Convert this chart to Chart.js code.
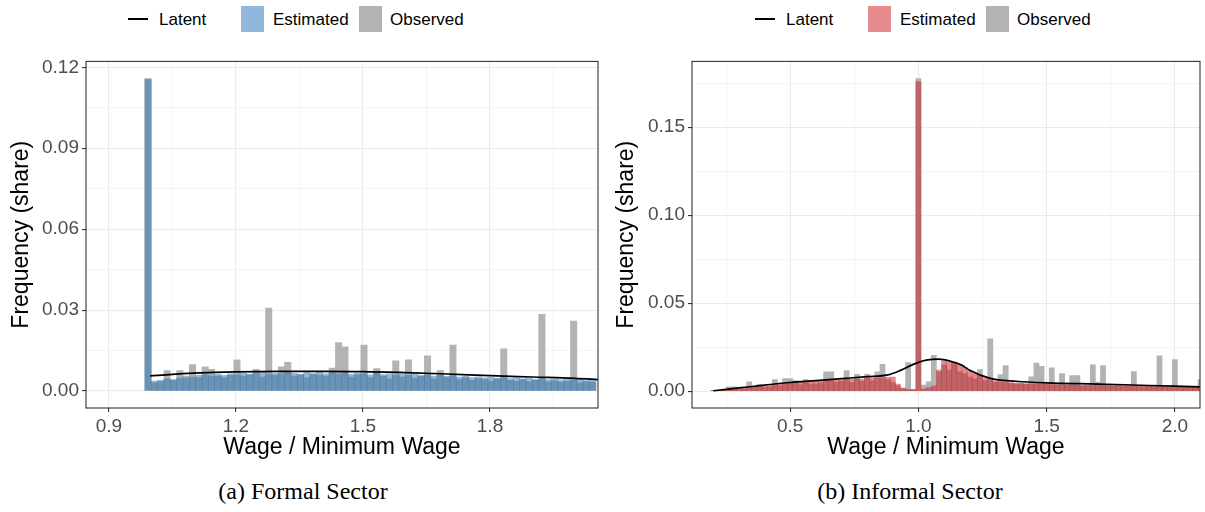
<!DOCTYPE html>
<html>
<head>
<meta charset="utf-8">
<script src="https://cdn.jsdelivr.net/npm/chart.js@4/dist/chart.umd.min.js"></script>
<style>
  body { margin: 0; background: #fff; width: 1205px; height: 512px; position: relative; overflow: hidden; font-family: "Liberation Sans", Arial, sans-serif; }
  .panel { position: absolute; top: 47px; }
  .key { position: absolute; font-size: 17px; color: #000; line-height: 1; }
  .key-line { position: absolute; height: 2px; background: #000; }
  .key-box { position: absolute; width: 23px; height: 26px; }
  .caption { position: absolute; top: 478px; font-family: "Liberation Serif", "Times New Roman", serif; font-size: 24px; color: #000; transform: translateX(-50%); white-space: nowrap; }
</style>
</head>
<body>

<!-- legends -->
<div class="key-line" style="left:128px; top:18px; width:20px;"></div>
<div class="key" style="left:159px; top:11px;">Latent</div>
<div class="key-box" style="left:241px; top:6px; background:#90b8da;"></div>
<div class="key" style="left:273px; top:11px;">Estimated</div>
<div class="key-box" style="left:359px; top:6px; background:#b3b3b3;"></div>
<div class="key" style="left:390px; top:11px;">Observed</div>

<div class="key-line" style="left:755px; top:18px; width:20px;"></div>
<div class="key" style="left:786px; top:11px;">Latent</div>
<div class="key-box" style="left:868px; top:6px; background:#e58c8e;"></div>
<div class="key" style="left:900px; top:11px;">Estimated</div>
<div class="key-box" style="left:986px; top:6px; background:#b3b3b3;"></div>
<div class="key" style="left:1017px; top:11px;">Observed</div>

<div class="panel" style="left:0px;"><canvas id="formal" width="605" height="423"></canvas></div>
<div class="panel" style="left:605px;"><canvas id="informal" width="600" height="423"></canvas></div>

<div class="caption" style="left:303px;">(a) Formal Sector</div>
<div class="caption" style="left:910px;">(b) Informal Sector</div>

<script>
// ---- formal sector (a) ----
const formalBinStart = 0.985;
const formalBinWidth = 0.015;
const formalObserved = [
  0.1158, 0.0030, 0.0035, 0.0076, 0.0040, 0.0076, 0.0048, 0.0098, 0.0050, 0.0090,
  0.0080, 0.0055, 0.0050, 0.0058, 0.0116, 0.0055, 0.0060, 0.0080, 0.0052, 0.0307,
  0.0058, 0.0090, 0.0106, 0.0055, 0.0060, 0.0050, 0.0062, 0.0058, 0.0055, 0.0085,
  0.0180, 0.0164, 0.0052, 0.0060, 0.0170, 0.0050, 0.0083, 0.0055, 0.0045, 0.0112,
  0.0052, 0.0116, 0.0048, 0.0055, 0.0130, 0.0045, 0.0076, 0.0050, 0.0170, 0.0042,
  0.0050, 0.0040, 0.0046, 0.0042, 0.0038, 0.0045, 0.0156, 0.0040, 0.0036, 0.0042,
  0.0035, 0.0040, 0.0284, 0.0034, 0.0038, 0.0032, 0.0036, 0.0259, 0.0030, 0.0035,
  0.0032
];
const formalEstimated = [
  0.1155, 0.0037, 0.0040, 0.0045, 0.0042, 0.0048, 0.0055, 0.0052, 0.0058, 0.0060,
  0.0056, 0.0062, 0.0058, 0.0064, 0.0060, 0.0066, 0.0062, 0.0065, 0.0068, 0.0063,
  0.0066, 0.0064, 0.0069, 0.0066, 0.0062, 0.0068, 0.0065, 0.0070, 0.0064, 0.0067,
  0.0063, 0.0068, 0.0062, 0.0066, 0.0064, 0.0060, 0.0066, 0.0061, 0.0064, 0.0059,
  0.0063, 0.0058, 0.0062, 0.0057, 0.0060, 0.0055, 0.0058, 0.0054, 0.0057, 0.0052,
  0.0055, 0.0050, 0.0053, 0.0049, 0.0051, 0.0047, 0.0050, 0.0046, 0.0048, 0.0045,
  0.0047, 0.0043, 0.0046, 0.0042, 0.0044, 0.0041, 0.0043, 0.0040, 0.0042, 0.0039,
  0.0041
];
const formalLatentX = [0.9975, 1.05, 1.1, 1.2, 1.3, 1.4, 1.5, 1.6, 1.7, 1.8, 1.9, 2.0, 2.06];
const formalLatentY = [0.0056, 0.0062, 0.0066, 0.0071, 0.0073, 0.0073, 0.0072, 0.0068, 0.0063, 0.0057, 0.0052, 0.0047, 0.0042];
const formalXTicks = [0.9, 1.2, 1.5, 1.8];
const formalXLabels = ['0.9', '1.2', '1.5', '1.8'];
const formalXMinor = [1.05, 1.35, 1.65, 1.95];
const formalYTicks = [0, 0.03, 0.06, 0.09, 0.12];
const formalYLabels = ['0.00', '0.03', '0.06', '0.09', '0.12'];
const formalYMinor = [0.015, 0.045, 0.075, 0.105];

// ---- informal sector (b) ----
const informalBinStart = 0.19;
const informalBinWidth = 0.02;
const informalObserved = [
  0.0002, 0.0004, 0.0006, 0.0024, 0.0024, 0.0010, 0.0012, 0.0053, 0.0020, 0.0038,
  0.0022, 0.0025, 0.0066, 0.0030, 0.0071, 0.0071, 0.0060, 0.0035, 0.0066, 0.0040,
  0.0042, 0.0045, 0.0109, 0.0109, 0.0050, 0.0055, 0.0117, 0.0050, 0.0096, 0.0055,
  0.0096, 0.0060, 0.0109, 0.0152, 0.0065, 0.0050, 0.0030, 0.0019, 0.0162, 0.0010,
  0.1776, 0.0034, 0.0053, 0.0204, 0.0110, 0.0150, 0.0120, 0.0160, 0.0110, 0.0100,
  0.0080, 0.0070, 0.0122, 0.0060, 0.0297, 0.0050, 0.0094, 0.0145, 0.0045, 0.0040,
  0.0042, 0.0040, 0.0081, 0.0160, 0.0141, 0.0040, 0.0133, 0.0035, 0.0100, 0.0035,
  0.0088, 0.0088, 0.0030, 0.0032, 0.0150, 0.0051, 0.0145, 0.0030, 0.0028, 0.0030,
  0.0027, 0.0028, 0.0111, 0.0026, 0.0025, 0.0027, 0.0024, 0.0201, 0.0025, 0.0023,
  0.0179, 0.0022, 0.0024, 0.0021, 0.0022, 0.0066
];
const informalEstimated = [
  0.0003, 0.0005, 0.0008, 0.0010, 0.0013, 0.0015, 0.0019, 0.0020, 0.0025, 0.0026,
  0.0031, 0.0032, 0.0037, 0.0038, 0.0043, 0.0045, 0.0047, 0.0050, 0.0053, 0.0054,
  0.0056, 0.0058, 0.0061, 0.0061, 0.0064, 0.0064, 0.0067, 0.0067, 0.0069, 0.0069,
  0.0072, 0.0072, 0.0075, 0.0076, 0.0079, 0.0080, 0.0040, 0.0015, 0.0010, 0.0008,
  0.1760, 0.0012, 0.0020, 0.0030, 0.0120, 0.0172, 0.0170, 0.0165, 0.0150, 0.0135,
  0.0115, 0.0100, 0.0088, 0.0075, 0.0066, 0.0058, 0.0053, 0.0050, 0.0047, 0.0045,
  0.0044, 0.0042, 0.0041, 0.0040, 0.0039, 0.0038, 0.0037, 0.0037, 0.0036, 0.0035,
  0.0035, 0.0034, 0.0033, 0.0034, 0.0032, 0.0032, 0.0031, 0.0032, 0.0030, 0.0031,
  0.0029, 0.0030, 0.0028, 0.0029, 0.0027, 0.0028, 0.0026, 0.0027, 0.0025, 0.0026,
  0.0024, 0.0025, 0.0023, 0.0024, 0.0022, 0.0023
];
const informalLatentX = [0.2, 0.3, 0.4, 0.5, 0.6, 0.7, 0.8, 0.88, 0.93, 0.98, 1.03, 1.08, 1.125, 1.17, 1.2, 1.28, 1.38, 1.5, 1.7, 1.9, 2.1];
const informalLatentY = [0.0002, 0.0018, 0.0034, 0.0049, 0.0060, 0.0071, 0.0082, 0.0092, 0.0118, 0.0152, 0.0176, 0.0182, 0.0170, 0.0147, 0.0118, 0.0072, 0.0056, 0.0047, 0.0040, 0.0032, 0.0024];
const informalXTicks = [0.5, 1.0, 1.5, 2.0];
const informalXLabels = ['0.5', '1.0', '1.5', '2.0'];
const informalXMinor = [0.25, 0.75, 1.25, 1.75];
const informalYTicks = [0, 0.05, 0.10, 0.15];
const informalYLabels = ['0.00', '0.05', '0.10', '0.15'];
const informalYMinor = [0.025, 0.075, 0.125, 0.175];

const isOn = (v, list) => list.some(m => Math.abs(m - v) < 1e-9);

// panel border like theme_bw
const panelBox = {
  id: 'panelBox',
  afterDraw(chart) {
    const { ctx, chartArea: a } = chart;
    ctx.save();
    ctx.strokeStyle = '#333333';
    ctx.lineWidth = 1.1;
    ctx.strokeRect(a.left, a.top, a.right - a.left, a.bottom - a.top);
    ctx.restore();
  }
};

function axis(range, majors, labels, minors, extra) {
  return Object.assign({
    type: 'linear',
    min: range[0],
    max: range[1],
    offset: false,
    afterBuildTicks: s => { s.ticks = majors.concat(minors).sort((a, b) => a - b).map(v => ({ value: v })); },
    ticks: {
      autoSkip: false,
      maxRotation: 0,
      color: '#4d4d4d',
      font: { family: 'Liberation Sans', size: 19 },
      padding: 3,
      callback: v => { const k = majors.findIndex(m => Math.abs(m - v) < 1e-9); return k >= 0 ? labels[k] : ''; }
    },
    grid: {
      offset: false,
      color: '#ebebeb',
      lineWidth: c => isOn(c.tick.value, majors) ? 1.1 : 0.55,
      tickLength: 4,
      tickColor: c => isOn(c.tick.value, majors) ? '#333333' : 'rgba(0,0,0,0)',
      tickWidth: 1.1
    },
    border: { display: false }
  }, extra);
}

function buildChart(id, o) {
  const centers = o.observed.map((_, i) => o.binStart + o.binWidth * (i + 0.5));
  return new Chart(document.getElementById(id), {
    type: 'bar',
    data: {
      datasets: [
        {
          type: 'line',
          label: 'Latent',
          data: o.latentX.map((x, i) => ({ x, y: o.latentY[i] })),
          borderColor: '#000000',
          borderWidth: 1.7,
          pointRadius: 0,
          cubicInterpolationMode: 'monotone',
          order: 0
        },
        {
          label: 'Estimated',
          data: centers.map((x, i) => ({ x, y: o.estimated[i] })),
          backgroundColor: o.estColor,
          borderWidth: 0,
          grouped: false,
          barPercentage: 1,
          categoryPercentage: 1,
          order: 1
        },
        {
          label: 'Observed',
          data: centers.map((x, i) => ({ x, y: o.observed[i] })),
          backgroundColor: '#b3b3b3',
          borderWidth: 0,
          grouped: false,
          barPercentage: 1,
          categoryPercentage: 1,
          order: 2
        }
      ]
    },
    options: {
      responsive: false,
      animation: false,
      devicePixelRatio: 1,
      layout: { padding: { top: 4, right: o.padRight, left: 0, bottom: 0 } },
      plugins: { legend: { display: false }, tooltip: { enabled: false } },
      scales: {
        x: axis(o.xRange, o.xTicks, o.xLabels, o.xMinor, {
          afterFit: s => { s.height = 62; },
          title: { display: true, text: 'Wage / Minimum Wage', color: '#000', font: { family: 'Liberation Sans', size: 23 }, padding: { top: 0, bottom: 9 } }
        }),
        y: axis(o.yRange, o.yTicks, o.yLabels, o.yMinor, {
          afterFit: s => { s.width = o.yWidth; },
          title: { display: true, text: 'Frequency (share)', color: '#000', font: { family: 'Liberation Sans', size: 23 }, padding: { top: 8, bottom: 0 } }
        })
      }
    },
    plugins: [panelBox]
  });
}

buildChart('formal', {
  binStart: formalBinStart, binWidth: formalBinWidth,
  observed: formalObserved, estimated: formalEstimated,
  latentX: formalLatentX, latentY: formalLatentY,
  estColor: 'rgba(33,113,181,0.5)',
  xRange: [0.846, 2.055], yRange: [-0.0063, 0.1222],
  xTicks: formalXTicks, xLabels: formalXLabels, xMinor: formalXMinor,
  yTicks: formalYTicks, yLabels: formalYLabels, yMinor: formalYMinor,
  yWidth: 86, padRight: 7
});

buildChart('informal', {
  binStart: informalBinStart, binWidth: informalBinWidth,
  observed: informalObserved, estimated: informalEstimated,
  latentX: informalLatentX, latentY: informalLatentY,
  estColor: 'rgba(203,24,29,0.5)',
  xRange: [0.117, 2.098], yRange: [-0.0096, 0.1874],
  xTicks: informalXTicks, xLabels: informalXLabels, xMinor: informalXMinor,
  yTicks: informalYTicks, yLabels: informalYLabels, yMinor: informalYMinor,
  yWidth: 87, padRight: 5
});
</script>
</body>
</html>
